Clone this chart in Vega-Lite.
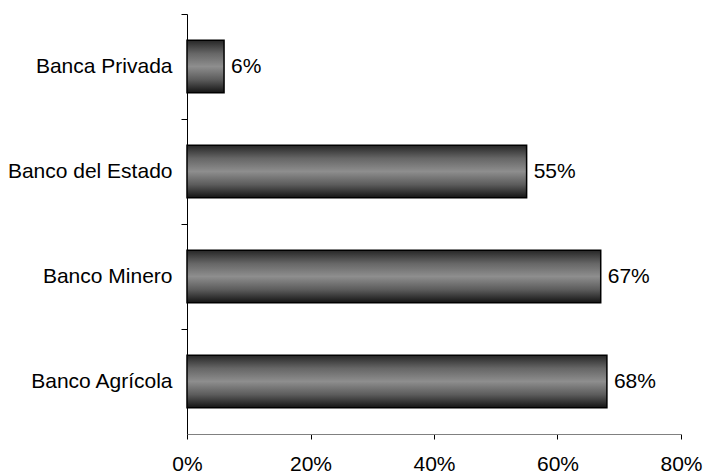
{
  "$schema": "https://vega.github.io/schema/vega-lite/v6.json",
  "autosize": {"type": "none"},
  "width": 494,
  "height": 420,
  "padding": {"left": 187, "top": 14, "right": 23, "bottom": 42},
  "background": "white",
  "config": {
    "view": {"stroke": null},
    "font": "Liberation Sans",
    "axis": {"labelFont": "Liberation Sans", "labelColor": "#000", "grid": false}
  },
  "data": {
    "values": [
      {"banco": "Banca Privada", "valor": 0.06},
      {"banco": "Banco del Estado", "valor": 0.55},
      {"banco": "Banco Minero", "valor": 0.67},
      {"banco": "Banco Agrícola", "valor": 0.68}
    ]
  },
  "encoding": {
    "y": {
      "field": "banco", "type": "nominal", "sort": null, "title": null,
      "scale": {"paddingInner": 0.5, "paddingOuter": 0.25},
      "axis": {"tickOffset": -52.5, "labelOffset": 52.5, "tickSize": 6, "tickColor": "#000", "domainColor": "#000", "labelFontSize": 21, "labelPadding": 9, "tickWidth": 1, "domainWidth": 1}
    },
    "x": {
      "field": "valor", "type": "quantitative", "title": null,
      "scale": {"domain": [0, 0.8], "nice": false},
      "axis": {"values": [0, 0.2, 0.4, 0.6, 0.8], "format": ".0%", "tickSize": 5, "tickColor": "#000", "domainColor": "#808080", "labelFontSize": 21, "labelPadding": 14, "labelFlush": false}
    }
  },
  "layer": [
    {
      "mark": {
        "type": "bar",
        "stroke": "#000",
        "strokeWidth": 1.5,
        "color": {
          "gradient": "linear", "x1": 0, "y1": 0, "x2": 0, "y2": 1,
          "stops": [
            {"offset": 0, "color": "#262626"},
            {"offset": 0.25, "color": "#666666"},
            {"offset": 0.5, "color": "#8e8e8e"},
            {"offset": 0.75, "color": "#5c5c5c"},
            {"offset": 1, "color": "#141414"}
          ]
        }
      }
    },
    {
      "mark": {"type": "text", "align": "left", "baseline": "middle", "dx": 7, "fontSize": 21, "color": "#000", "font": "Liberation Sans"},
      "encoding": {"text": {"field": "valor", "type": "quantitative", "format": ".0%"}}
    }
  ]
}
